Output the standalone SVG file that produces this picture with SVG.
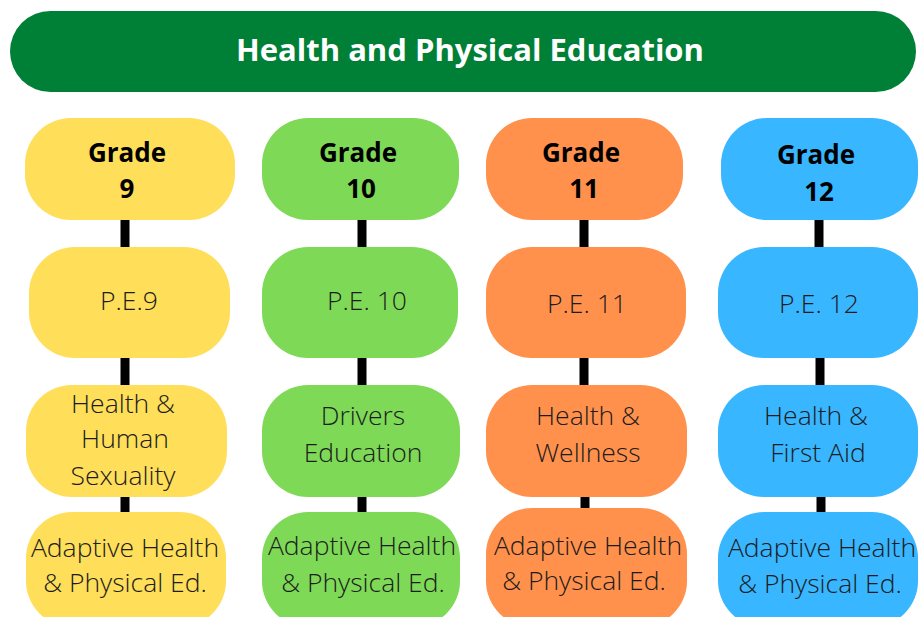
<svg xmlns="http://www.w3.org/2000/svg" width="918" height="617" viewBox="0 0 918 617">
<style>
.t{font-family:"Open Sans","Liberation Sans",sans-serif;text-anchor:middle}
.title{font-size:31px;font-weight:700;fill:#ffffff}
.g{font-size:26px;font-weight:700;fill:#000000}
.b{font-size:26.5px;font-weight:300;fill:#1c1c1c}
.y{fill:#FFDE59}.gr{fill:#7ED957}.o{fill:#FF914D}.bl{fill:#38B6FF}
.c{fill:#000000}
</style>
<rect width="918" height="617" fill="#ffffff"/>
<g id="title">
<rect x="10" y="11" width="906" height="81" rx="40.5" fill="#008037"/>
<text class="t title" x="470" y="61">Health and Physical Education</text>
</g>
<g id="connectors">
<rect class="c" x="120.5" y="219" width="9" height="30"/>
<rect class="c" x="120.5" y="357" width="9" height="30"/>
<rect class="c" x="120.5" y="496" width="9" height="18"/>
<rect class="c" x="357.5" y="219" width="9" height="30"/>
<rect class="c" x="357.5" y="357" width="9" height="30"/>
<rect class="c" x="357.5" y="496" width="9" height="18"/>
<rect class="c" x="579.5" y="219" width="9" height="30"/>
<rect class="c" x="579.5" y="357" width="9" height="30"/>
<rect class="c" x="580.5" y="496" width="9" height="14"/>
<rect class="c" x="814.5" y="219" width="9" height="30"/>
<rect class="c" x="815.5" y="357" width="9" height="30"/>
<rect class="c" x="816.5" y="496" width="9" height="18"/>
</g>
<g id="grade9">
<rect class="y" x="25" y="118" width="210" height="102" rx="46"/>
<text class="t g" x="127" y="162">Grade</text>
<text class="t g" x="127" y="198">9</text>
</g>
<g id="grade10">
<rect class="gr" x="262" y="118" width="197" height="102" rx="46"/>
<text class="t g" x="358" y="162">Grade</text>
<text class="t g" x="361" y="198">10</text>
</g>
<g id="grade11">
<rect class="o" x="486" y="118" width="197" height="102" rx="46"/>
<text class="t g" x="581" y="162">Grade</text>
<text class="t g" x="584" y="198">11</text>
</g>
<g id="grade12">
<rect class="bl" x="721" y="118" width="197" height="102" rx="46"/>
<text class="t g" x="816" y="164">Grade</text>
<text class="t g" x="819" y="201">12</text>
</g>
<g id="pe9">
<rect class="y" x="29" y="247" width="201" height="111" rx="46"/>
<text class="t b" x="129" y="310">P.E.9</text>
</g>
<g id="pe10">
<rect class="gr" x="262" y="247" width="196" height="111" rx="46"/>
<text class="t b" x="367" y="310">P.E. 10</text>
</g>
<g id="pe11">
<rect class="o" x="486" y="247" width="200" height="111" rx="46"/>
<text class="t b" x="587" y="313">P.E. 11</text>
</g>
<g id="pe12">
<rect class="bl" x="718" y="247" width="200" height="111" rx="46"/>
<text class="t b" x="819" y="313">P.E. 12</text>
</g>
<g id="health9">
<rect class="y" x="26" y="385" width="201" height="112" rx="46"/>
<text class="t b" x="123" y="413">Health &amp;</text>
<text class="t b" x="125" y="448">Human</text>
<text class="t b" x="123" y="485">Sexuality</text>
</g>
<g id="drivers10">
<rect class="gr" x="262" y="385" width="198" height="112" rx="46"/>
<text class="t b" x="363" y="425">Drivers</text>
<text class="t b" x="363" y="462">Education</text>
</g>
<g id="health11">
<rect class="o" x="486" y="385" width="201" height="112" rx="46"/>
<text class="t b" x="588" y="425">Health &amp;</text>
<text class="t b" x="588" y="462">Wellness</text>
</g>
<g id="health12">
<rect class="bl" x="718" y="385" width="200" height="112" rx="46"/>
<text class="t b" x="816" y="425">Health &amp;</text>
<text class="t b" x="818" y="462">First Aid</text>
</g>
<g id="adaptive9">
<rect class="y" x="26" y="512" width="200" height="115" rx="46"/>
<text class="t b" x="125" y="557">Adaptive Health</text>
<text class="t b" x="125" y="592">&amp; Physical Ed.</text>
</g>
<g id="adaptive10">
<rect class="gr" x="262" y="512" width="198" height="115" rx="46"/>
<text class="t b" x="362" y="555">Adaptive Health</text>
<text class="t b" x="363" y="592">&amp; Physical Ed.</text>
</g>
<g id="adaptive11">
<rect class="o" x="486" y="508" width="201" height="119" rx="46"/>
<text class="t b" x="588" y="555">Adaptive Health</text>
<text class="t b" x="584" y="590">&amp; Physical Ed.</text>
</g>
<g id="adaptive12">
<rect class="bl" x="718" y="512" width="200" height="115" rx="46"/>
<text class="t b" x="822" y="557">Adaptive Health</text>
<text class="t b" x="820" y="593">&amp; Physical Ed.</text>
</g>
</svg>
